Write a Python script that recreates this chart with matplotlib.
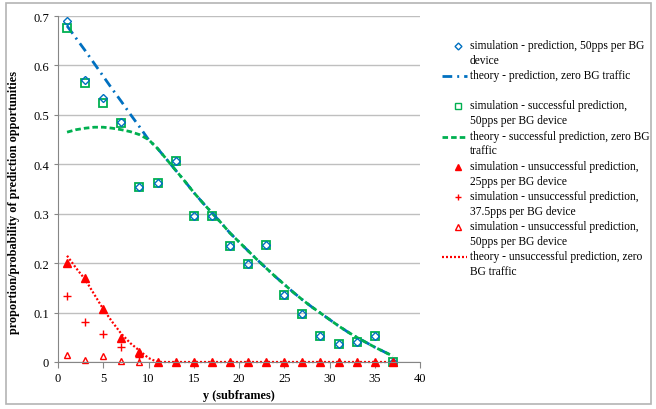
import matplotlib.pyplot as plt
from matplotlib.lines import Line2D
from matplotlib.patches import Rectangle

# data
x_sim = [1, 3, 5, 7, 9, 11, 13, 15, 17, 19, 21, 23, 25, 27, 29, 31, 33, 35, 37]
sim_pred = [0.690, 0.570, 0.535, 0.485, 0.355, 0.362, 0.406, 0.296, 0.296, 0.234,
            0.198, 0.236, 0.135, 0.097, 0.053, 0.037, 0.040, 0.053, 0.0]
sim_succ = [0.675, 0.565, 0.523, 0.484, 0.355, 0.362, 0.406, 0.296, 0.296, 0.234,
            0.198, 0.236, 0.135, 0.097, 0.053, 0.037, 0.040, 0.053, 0.0]
sim_unsucc_25 = [0.200, 0.169, 0.107, 0.048, 0.021, 0, 0, 0, 0, 0,
                 0, 0, 0, 0, 0, 0, 0, 0, 0]
x_plus = [1, 3, 5, 7, 9]
sim_unsucc_375 = [0.134, 0.080, 0.056, 0.031, 0.011]
x_open = [1, 3, 5, 7, 9]
sim_unsucc_50 = [0.014, 0.005, 0.013, 0.002, 0.0]

x_th = list(range(1, 38))
th_succ = [0.465, 0.470, 0.473, 0.475, 0.475, 0.473, 0.470, 0.466, 0.460, 0.450,
           0.432, 0.410, 0.388, 0.366, 0.343, 0.322, 0.302, 0.282, 0.261, 0.243,
           0.225, 0.207, 0.190, 0.173, 0.157, 0.141, 0.126, 0.112, 0.099, 0.086,
           0.073, 0.061, 0.050, 0.040, 0.030, 0.021, 0.012]
th_pred = [0.680, 0.655, 0.630, 0.604, 0.578, 0.552, 0.527, 0.501, 0.476, 0.450] + th_succ[10:]
th_unsucc = [0.215, 0.190, 0.167, 0.137, 0.107, 0.081, 0.057, 0.038, 0.023, 0.008] + [0.0] * 27

blue = '#0070C0'
green = '#00B050'
red = '#FF0000'
dash_dot = (3.5, 1.8, 0.7, 1.8)
dashed = (2.0, 1.1)
dotted = (0.9, 0.9)

plt.rcParams['font.family'] = ['Liberation Serif', 'DejaVu Serif']

fig = plt.figure(figsize=(6.56, 4.10), dpi=100)
# chart border like the Excel chart area
fig.add_artist(Rectangle((6 / 656, 5 / 410), 645 / 656, 401 / 410, transform=fig.transFigure,
                         fill=False, edgecolor='#B4B4B4', lw=1.2))
ax = fig.add_axes([58 / 656, 47 / 410, 362 / 656, 346 / 410])

ax.plot(x_th, th_pred, color=blue, lw=2, dashes=dash_dot)
ax.plot(x_th, th_succ, color=green, lw=2, dashes=dashed)
ax.plot(x_th, th_unsucc, color=red, lw=1.6, dashes=dotted, clip_on=False)
ax.plot(x_sim, sim_succ, 's', ms=5.5, mfc='none', mec=green, mew=1.3, ls='none', clip_on=False)
ax.plot(x_sim, sim_pred, 'D', ms=4, mfc='none', mec=blue, mew=1.0, ls='none', clip_on=False)
ax.plot(x_sim, sim_unsucc_25, '^', ms=6, color=red, ls='none', clip_on=False)
ax.plot(x_plus, sim_unsucc_375, '+', ms=6, mew=1.0, color=red, ls='none', clip_on=False)
ax.plot(x_open, sim_unsucc_50, '^', ms=5, mfc='none', mec=red, mew=1.0, ls='none', clip_on=False)

ax.set_xlim(0, 40)
ax.set_ylim(0, 0.7)
ax.set_xticks(range(0, 41, 5))
ax.set_yticks([0, 0.1, 0.2, 0.3, 0.4, 0.5, 0.6, 0.7])
ax.set_yticklabels(['0', '0.1', '0.2', '0.3', '0.4', '0.5', '0.6', '0.7'])
ax.yaxis.grid(True, color='#BFBFBF', lw=1)
ax.set_axisbelow(True)
for s in ['top', 'right']:
    ax.spines[s].set_visible(False)
for s in ['left', 'bottom']:
    ax.spines[s].set_color('#868686')
ax.tick_params(axis='both', labelsize=9, color='#868686', length=4)
ax.tick_params(axis='y', length=3)
ax.set_xlabel('y (subframes)', fontsize=8.8, fontweight='bold', labelpad=3)
ax.set_ylabel('proportion/probability of prediction opportunities', fontsize=8.8,
              fontweight='bold')
ax.yaxis.set_label_coords(-0.105, 0.465)

# legend, drawn Excel-style with the handle on the first text line
entries = [
    (dict(marker='D', ms=3.5, mfc='none', mec=blue, ls='none'), 'simulation - prediction, 50pps per BG\ndevice'),
    (dict(color=blue, lw=2, dashes=dash_dot), 'theory - prediction, zero BG traffic'),
    (dict(marker='s', ms=5, mfc='none', mec=green, ls='none'), 'simulation - successful prediction,\n50pps per BG device'),
    (dict(color=green, lw=2, dashes=dashed), 'theory - successful prediction, zero BG\ntraffic'),
    (dict(marker='^', ms=5, color=red, ls='none'), 'simulation - unsuccessful prediction,\n25pps per BG device'),
    (dict(marker='+', ms=5, color=red, ls='none'), 'simulation - unsuccessful prediction,\n37.5pps per BG device'),
    (dict(marker='^', ms=4.5, mfc='none', mec=red, ls='none'), 'simulation - unsuccessful prediction,\n50pps per BG device'),
    (dict(color=red, lw=1.6, dashes=dotted), 'theory - unsuccessful prediction, zero\nBG traffic'),
]
for i, (style, label) in enumerate(entries):
    yy = 1 - (47 + 30.2 * i) / 410
    if 'marker' in style:
        fig.add_artist(Line2D([458 / 656], [yy], transform=fig.transFigure, **style))
    else:
        fig.add_artist(Line2D([442 / 656, 467 / 656], [yy, yy], transform=fig.transFigure, **style))
    fig.text(470 / 656, yy + 7 / 410, label, fontsize=8.3, va='top', ha='left', linespacing=1.3)

fig.savefig('out.png', dpi=100)
